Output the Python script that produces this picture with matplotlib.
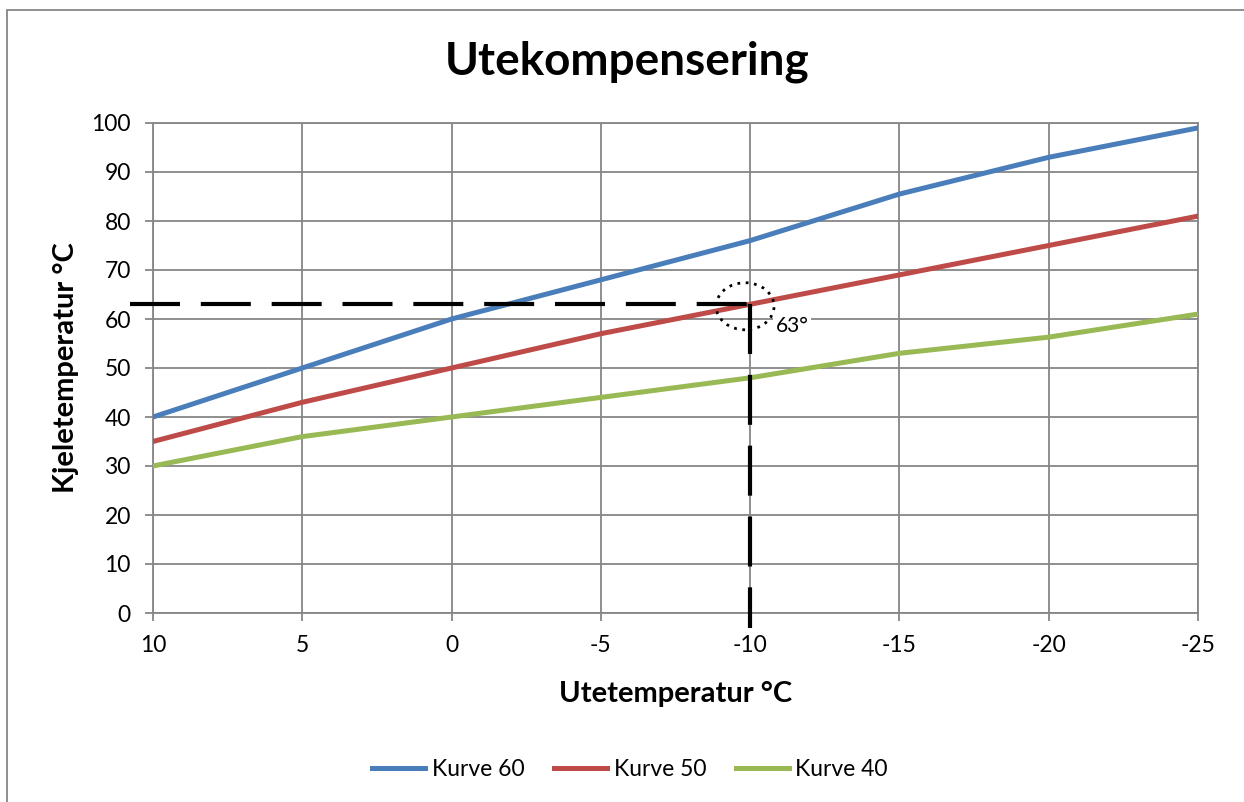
import matplotlib.pyplot as plt
from matplotlib.patches import Ellipse, Rectangle

plt.rcParams['font.family'] = ['Lato', 'DejaVu Sans']

# outdoor temperature (x) and boiler temperature per curve
ute_temp = [10, 5, 0, -5, -10, -15, -20, -25]
kurve_60 = [40, 50, 60, 68, 76, 85.5, 93, 99]
kurve_50 = [35, 43, 50, 57, 63, 69, 75, 81]
kurve_40 = [30, 36, 40, 44, 48, 53, 56.3, 61]
yticks = [0, 10, 20, 30, 40, 50, 60, 70, 80, 90, 100]

# reading example: -10 ute -> 63 kjele on curve 50
read_x = -10
read_y = 63

grid_col = '#868686'

fig = plt.figure(figsize=(12.44, 8.02), dpi=100)
ax = fig.add_axes([153/1244, 1-613/802, (1198-153)/1244, (613-123)/802])

ax.plot(ute_temp, kurve_60, color='#4A7EBB', lw=3.6, label='Kurve 60', zorder=3)
ax.plot(ute_temp, kurve_50, color='#BE4B48', lw=3.6, label='Kurve 50', zorder=3)
ax.plot(ute_temp, kurve_40, color='#98B954', lw=3.6, label='Kurve 40', zorder=3)

ax.set_xlim(10, -25)
ax.set_ylim(0, 100)
ax.set_xticks(ute_temp)
ax.set_xticklabels([str(t) for t in ute_temp])
ax.set_yticks(yticks)
ax.grid(True, color=grid_col, lw=1.3)
ax.set_axisbelow(True)
for s in ax.spines.values():
    s.set_color(grid_col)
    s.set_linewidth(1.3)
ax.tick_params(axis='both', colors=grid_col, length=6, width=1.3, labelcolor='black', labelsize=16.5)
ax.tick_params(axis='y', pad=10)
ax.tick_params(axis='x', pad=10)

# dashed reading lines, running slightly outside the plot
ax.plot([10.77, read_x], [read_y, read_y], color='black', lw=3, ls=(0, (12, 5)),
        clip_on=False, zorder=4)
ax.plot([read_x, read_x], [read_y, -3], color='black', lw=3, ls=(0, (12, 5)),
        clip_on=False, zorder=4)
ax.add_patch(Ellipse((-9.83, 62.6), 1.94, 9.6, fill=False, ls=(0, (1, 2)),
                     lw=2, color='black', zorder=5))
ax.text(-10.85, 58.6, '63°', fontsize=15, ha='left', va='center', zorder=5,
        bbox=dict(facecolor='white', edgecolor='none', pad=2))

fig.text(627/1244, 1-62/802, 'Utekompensering', fontsize=33, fontweight='bold',
         ha='center', va='center')
ax.set_xlabel('Utetemperatur °C', fontsize=21, fontweight='bold', labelpad=18)
ax.set_ylabel('Kjeletemperatur °C', fontsize=21, fontweight='bold', labelpad=9)

ax.legend(loc='center', bbox_to_anchor=(630/1244, 1-770/802), bbox_transform=fig.transFigure,
          ncol=3, frameon=False, fontsize=16.5, handlelength=2.3, handletextpad=0.3,
          columnspacing=1.3)

# outer chart border (left and top visible)
fig.patches.append(Rectangle((7/1244, -0.1), 1.2, 1 - 10/802 + 0.1, transform=fig.transFigure,
                             fill=False, edgecolor=grid_col, lw=1.3))

fig.savefig('out.png', dpi=100)
